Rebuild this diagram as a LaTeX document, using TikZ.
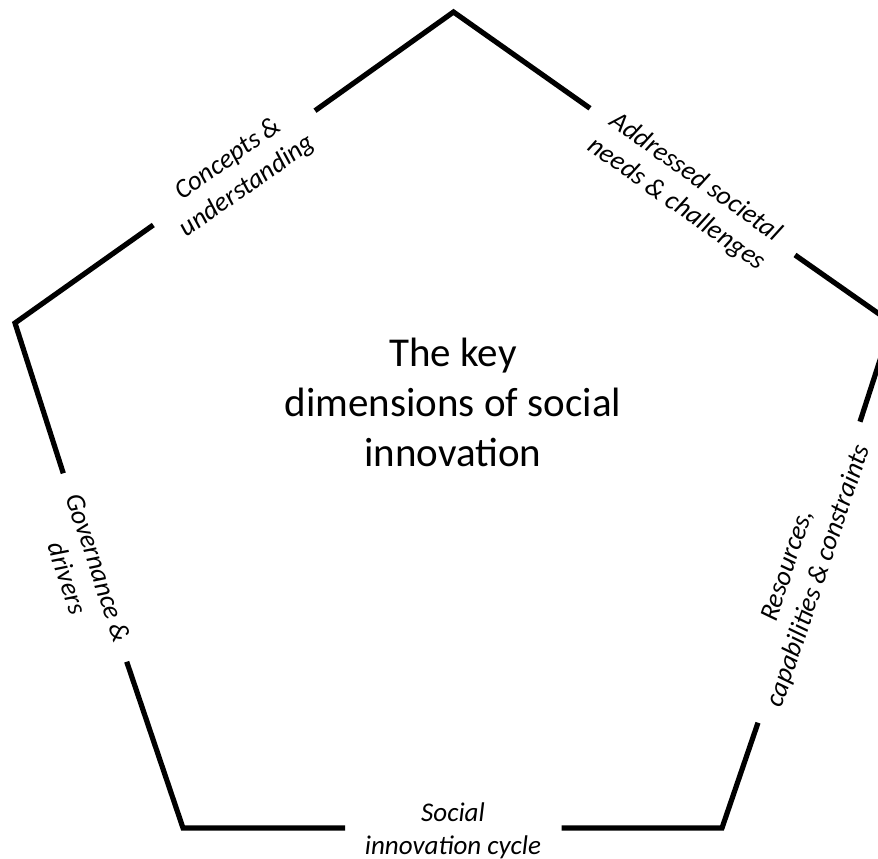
\documentclass[tikz,border=0pt]{standalone}
\usepackage{fontspec}
\setmainfont{Carlito}
\usepackage{tikz}

\begin{document}
\begin{tikzpicture}[x=1pt,y=-1pt,
  edge/.style={line width=5.2pt,black},
  dimlabel/.style={font=\fontsize{27}{33}\selectfont\itshape,align=center,inner sep=0pt}]

\useasboundingbox (0,0) rectangle (878,859);

% corners of the pentagon
\coordinate (top) at (453.5,12);
\coordinate (right) at (892,323);
\coordinate (botright) at (722,828);
\coordinate (botleft) at (183,828);
\coordinate (left) at (15,323);

% ends of the broken sides
\coordinate (cuA) at (153.3,225);  \coordinate (cuB) at (315,110.7);
\coordinate (adA) at (590,108.3);  \coordinate (adB) at (795,255);
\coordinate (rcA) at (860,421.7);  \coordinate (rcB) at (758,722.7);
\coordinate (siA) at (561.7,828);  \coordinate (siB) at (345,828);
\coordinate (gdA) at (126.7,661.7); \coordinate (gdB) at (63.3,473.3);

\draw[edge] (cuB) -- (top) -- (adA);
\draw[edge] (adB) -- (right) -- (rcA);
\draw[edge] (rcB) -- (botright) -- (siA);
\draw[edge] (siB) -- (botleft) -- (gdA);
\draw[edge] (gdB) -- (left) -- (cuA);

% labels of the five dimensions
\node[dimlabel,rotate=35.3] (concepts) at (238,173) {Concepts \&\\understanding};
\node[dimlabel,rotate=-35.3] (needs) at (686,191) {Addressed societal\\needs \& challenges};
\node[dimlabel,rotate=71.4] (resources) at (804,571) {Resources,\\capabilities \& constraints};
\node[dimlabel] (cycle) at (453,831) {Social\\innovation cycle};
\node[dimlabel,rotate=-71.6] (governance) at (83,573) {Governance \&\\drivers};

\node[font=\fontsize{41}{50}\selectfont,align=center] (title) at (453,402) {The key\\dimensions of social\\innovation};

\end{tikzpicture}
\end{document}
